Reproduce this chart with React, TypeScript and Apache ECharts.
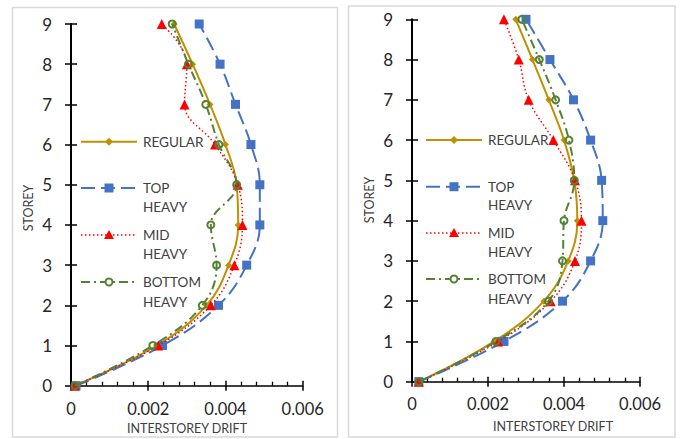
import React, { useEffect, useRef } from "react";
import * as echarts from "echarts";

// Storey levels (y values) shared by both panels
const storeys = [0, 1, 2, 3, 4, 5, 6, 7, 8, 9];

// Left panel: interstorey drift per storey
const regularLeft = [0.0001, 0.00222, 0.00351, 0.00408, 0.00433, 0.00429, 0.004, 0.0036, 0.00315, 0.00267];
const topLeft = [0.00013, 0.00237, 0.00382, 0.00455, 0.00489, 0.00489, 0.00466, 0.00426, 0.00386, 0.00332];
const midLeft = [0.0001, 0.00226, 0.00362, 0.00423, 0.00444, 0.00432, 0.00373, 0.00294, 0.003, 0.00235];
const bottomLeft = [0.0001, 0.00212, 0.0034, 0.00377, 0.00362, 0.00429, 0.00383, 0.00349, 0.00304, 0.00262];

// Right panel: interstorey drift per storey
const regularRight = [0.00018, 0.00216, 0.00347, 0.00411, 0.00435, 0.00427, 0.004, 0.0036, 0.00317, 0.00273];
const topRight = [0.00018, 0.00242, 0.00396, 0.0047, 0.00502, 0.00499, 0.0047, 0.00425, 0.00363, 0.003];
const midRight = [0.00018, 0.00227, 0.00365, 0.00429, 0.00446, 0.00429, 0.00372, 0.00307, 0.00281, 0.00242];
const bottomRight = [0.00018, 0.00221, 0.00359, 0.00396, 0.004, 0.00427, 0.00413, 0.00378, 0.00335, 0.00289];

const xMin = 0;
const xMax = 0.006;
const xStep = 0.002;
const yMin = 0;
const yMax = 9;
const yStep = 1;

const xAxisTitle = "INTERSTOREY DRIFT";
const yAxisTitle = "STOREY";

const FONT = "Lato, 'Open Sans', sans-serif";
const TEXT_DARK = "#262626";
const TEXT_MID = "#404040";

type Style = {
  name: string[];
  color: string;
  width: number;
  dash: number[] | "solid";
  symbol: string;
  symbolSize: number;
  hollow?: boolean;
};

const styles: Style[] = [
  { name: ["REGULAR"], color: "#BF9000", width: 2, dash: "solid", symbol: "diamond", symbolSize: 7 },
  { name: ["TOP", "HEAVY"], color: "#4472C4", width: 2, dash: [14, 6], symbol: "rect", symbolSize: 9 },
  { name: ["MID", "HEAVY"], color: "#FF0000", width: 1.5, dash: [1.5, 2.5], symbol: "triangle", symbolSize: 10 },
  { name: ["BOTTOM", "HEAVY"], color: "#548235", width: 2, dash: [9, 4, 2, 4], symbol: "circle", symbolSize: 7, hollow: true },
];

const leftSets = [regularLeft, topLeft, midLeft, bottomLeft];
const rightSets = [regularRight, topRight, midRight, bottomRight];

function buildSeries(sets: number[][], axisBase: number) {
  return sets.map((vals, i) => {
    const s = styles[i];
    return {
      type: "line",
      name: s.name.join(" "),
      xAxisIndex: axisBase,
      yAxisIndex: axisBase,
      data: vals.map((v, k) => [v, storeys[k]]),
      smooth: 0.4,
      symbol: s.symbol,
      symbolSize: s.symbolSize,
      showSymbol: true,
      z: 3 + i,
      lineStyle: { color: s.color, width: s.width, type: s.dash, cap: "butt" },
      itemStyle: s.hollow
        ? { color: "rgba(255,255,255,0)", borderColor: s.color, borderWidth: 2 }
        : { color: s.color, borderWidth: 0 },
    };
  });
}

function buildAxes(gridIndex: number, xLabelMargin: number) {
  const xAxes = [
    {
      gridIndex,
      type: "value",
      position: "bottom",
      min: xMin,
      max: xMax,
      interval: xStep,
      axisLine: { show: true, onZero: false, lineStyle: { color: "#000", width: 1.5 } },
      axisTick: { show: true, inside: true, length: 5, lineStyle: { color: "#000", width: 1.5 } },
      minorTick: { show: true, splitNumber: 5, length: 4, lineStyle: { color: "#000", width: 1.3 } },
      splitLine: { show: false },
      minorSplitLine: { show: false },
      axisLabel: {
        margin: xLabelMargin,
        color: TEXT_DARK,
        fontSize: 16.5,
        fontFamily: FONT,
        formatter: (v: number) => (v === 0 ? "0" : v.toFixed(3)),
      },
    },
    {
      gridIndex,
      type: "value",
      position: "bottom",
      min: xMin,
      max: xMax,
      interval: xStep,
      axisLine: { show: false, onZero: false },
      axisTick: { show: true, inside: false, length: 5, lineStyle: { color: "#000", width: 1.5 } },
      axisLabel: { show: false },
      splitLine: { show: false },
    },
  ];
  const yAxes = [
    {
      gridIndex,
      type: "value",
      position: "left",
      min: yMin,
      max: yMax,
      interval: yStep,
      axisLine: { show: true, onZero: false, lineStyle: { color: "#000", width: 2 } },
      axisTick: { show: true, inside: true, length: 6, lineStyle: { color: "#000", width: 1.5 } },
      splitLine: { show: false },
      axisLabel: { margin: 19, color: TEXT_DARK, fontSize: 17, fontFamily: FONT },
    },
    {
      gridIndex,
      type: "value",
      position: "left",
      min: yMin,
      max: yMax,
      interval: yStep,
      axisLine: { show: false, onZero: false },
      axisTick: { show: true, inside: false, length: 6, lineStyle: { color: "#000", width: 1.5 } },
      axisLabel: { show: false },
      splitLine: { show: false },
    },
  ];
  return { xAxes, yAxes };
}

// Key drawn beside the curves: sample line + marker, then a one- or two-line label
function buildKey(x1: number, x2: number, textX: number, rows: { y: number; y2?: number }[]) {
  const items: any[] = [];
  const cx = (x1 + x2) / 2;
  styles.forEach((s, i) => {
    const { y, y2 } = rows[i];
    items.push({
      type: "line",
      shape: { x1, y1: y, x2, y2: y },
      style: {
        stroke: s.color,
        lineWidth: s.width,
        lineDash: s.dash === "solid" ? null : s.dash,
      },
      z: 10,
    });
    if (s.symbol === "diamond") {
      items.push({
        type: "polygon",
        shape: { points: [[cx, y - 4], [cx + 4, y], [cx, y + 4], [cx - 4, y]] },
        style: { fill: s.color },
        z: 11,
      });
    } else if (s.symbol === "rect") {
      items.push({
        type: "rect",
        shape: { x: cx - 4.5, y: y - 4.5, width: 9, height: 9 },
        style: { fill: s.color },
        z: 11,
      });
    } else if (s.symbol === "triangle") {
      items.push({
        type: "polygon",
        shape: { points: [[cx, y - 5], [cx + 5, y + 4], [cx - 5, y + 4]] },
        style: { fill: s.color },
        z: 11,
      });
    } else {
      items.push({
        type: "circle",
        shape: { cx, cy: y, r: 3.5 },
        style: { fill: "#fff", stroke: s.color, lineWidth: 2 },
        z: 11,
      });
    }
    items.push({
      type: "text",
      x: textX,
      y,
      style: { text: s.name[0], fill: TEXT_MID, font: `13.5px ${FONT}`, align: "left", verticalAlign: "middle" },
      z: 11,
    });
    if (s.name[1] && y2 !== undefined) {
      items.push({
        type: "text",
        x: textX,
        y: y2,
        style: { text: s.name[1], fill: TEXT_MID, font: `13.5px ${FONT}`, align: "left", verticalAlign: "middle" },
        z: 11,
      });
    }
  });
  return items;
}

export default function App() {
  const ref = useRef<HTMLDivElement>(null);

  useEffect(() => {
    if (!ref.current) return;
    const chart = echarts.init(ref.current, undefined, { renderer: "svg" });

    const left = buildAxes(0, 15);
    const right = buildAxes(1, 14);

    const titleFont = `12.5px ${FONT}`;

    const graphic: any[] = [
      // panel frames
      { type: "rect", shape: { x: 12.5, y: 7.5, width: 325, height: 429.5 }, style: { fill: "none", stroke: "#d9d9d9", lineWidth: 1.5 }, z: 0 },
      { type: "rect", shape: { x: 348.5, y: 6, width: 326.5, height: 431 }, style: { fill: "none", stroke: "#d9d9d9", lineWidth: 1.5 }, z: 0 },
      // axis titles
      { type: "text", x: 187, y: 428, style: { text: xAxisTitle, fill: TEXT_MID, font: titleFont, align: "center", verticalAlign: "middle" } },
      { type: "text", x: 553, y: 426.5, style: { text: xAxisTitle, fill: TEXT_MID, font: titleFont, align: "center", verticalAlign: "middle" } },
      { type: "text", x: 28.5, y: 208, rotation: Math.PI / 2, style: { text: yAxisTitle, fill: TEXT_MID, font: titleFont, align: "center", verticalAlign: "middle" } },
      { type: "text", x: 369, y: 200, rotation: Math.PI / 2, style: { text: yAxisTitle, fill: TEXT_MID, font: titleFont, align: "center", verticalAlign: "middle" } },
      ...buildKey(81, 137, 143, [
        { y: 141.7 },
        { y: 188, y2: 207 },
        { y: 235, y2: 253.5 },
        { y: 282, y2: 302 },
      ]),
      ...buildKey(426, 482, 488, [
        { y: 140 },
        { y: 186.7, y2: 204.5 },
        { y: 233, y2: 252 },
        { y: 279, y2: 299 },
      ]),
    ];

    chart.setOption({
      animation: false,
      backgroundColor: "#ffffff",
      grid: [
        { left: 71, top: 24, width: 231.7, height: 361.7, containLabel: false },
        { left: 412, top: 19.3, width: 228, height: 362.4, containLabel: false },
      ],
      xAxis: [...left.xAxes, ...right.xAxes],
      yAxis: [...left.yAxes, ...right.yAxes],
      series: [...buildSeries(leftSets, 0), ...buildSeries(rightSets, 2)],
      graphic,
    });

    return () => chart.dispose();
  }, []);

  return (
    <div
      ref={ref}
      style={{ position: "absolute", left: 0, top: 0, width: 680, height: 439, background: "#fff" }}
    />
  );
}
